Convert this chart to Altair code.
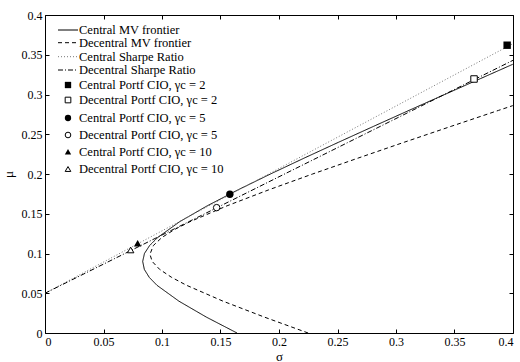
import altair as alt
import pandas as pd

# ---- data ----
central_mu = [0.0, 0.02, 0.04, 0.06, 0.07, 0.08, 0.09, 0.10, 0.11, 0.12, 0.14, 0.16, 0.18,
              0.20, 0.22, 0.24, 0.26, 0.28, 0.30, 0.32, 0.338]
central_sigma = [0.1641, 0.1379, 0.1145, 0.0957, 0.0891, 0.0849, 0.0835, 0.0850, 0.0894, 0.0962,
                 0.1151, 0.1387, 0.1649, 0.1927, 0.2215, 0.2510, 0.2809, 0.3111, 0.3416, 0.3722, 0.3998]

decentral_mu = [0.0, 0.02, 0.04, 0.06, 0.07, 0.08, 0.09, 0.099, 0.11, 0.12, 0.13, 0.14, 0.16,
                0.18, 0.20, 0.22, 0.24, 0.26, 0.28, 0.286]
decentral_sigma = [0.2249, 0.1875, 0.1522, 0.1210, 0.1082, 0.0980, 0.0916, 0.0897, 0.0926, 0.0998,
                   0.1105, 0.1239, 0.1556, 0.1911, 0.2287, 0.2676, 0.3071, 0.3472, 0.3876, 0.3998]

sharpe_sigma = [0.0, 0.4]
central_sharpe_mu = [0.05, 0.364]
decentral_sharpe_mu = [0.05, 0.343]

# portfolio points: gamma = 2, 5, 10
central_pt_sigma = [0.395, 0.158, 0.0792]
central_pt_mu = [0.362, 0.1745, 0.1128]
decentral_pt_sigma = [0.3667, 0.1467, 0.0732]
decentral_pt_mu = [0.3195, 0.1577, 0.1044]
pt_shapes = ["square", "circle", "triangle-up"]

legend_labels = [
    "Central MV frontier",
    "Decentral MV frontier",
    "Central Sharpe Ratio",
    "Decentral Sharpe Ratio",
    "Central Portf CIO, \u03b3c = 2",
    "Decentral Portf CIO, \u03b3c = 2",
    "Central Portf CIO, \u03b3c = 5",
    "Decentral Portf CIO, \u03b3c = 5",
    "Central Portf CIO, \u03b3c = 10",
    "Decentral Portf CIO, \u03b3c = 10",
]

ticks = [0, 0.05, 0.1, 0.15, 0.2, 0.25, 0.3, 0.35, 0.4]

FONT = "Liberation Serif"
W, H = 468, 318

xscale = alt.Scale(domain=[0, 0.4], nice=False)
yscale = alt.Scale(domain=[0, 0.4], nice=False)

grid_common = dict(values=ticks, tickSize=0, domain=False, grid=True,
                   gridDash=[4, 2000], gridColor="black", gridOpacity=1, gridWidth=1)

x_bottom = alt.Axis(orient="bottom", format="~g", labelFont=FONT, labelFontSize=12,
                    labelColor="black", labelPadding=3, title="\u03c3", titleFont=FONT,
                    titleFontSize=13, titleFontWeight="normal", titleColor="black",
                    titlePadding=3, **grid_common)
y_left = alt.Axis(orient="left", format="~g", labelFont=FONT, labelFontSize=12,
                  labelColor="black", labelPadding=3, title="\u03bc", titleFont=FONT,
                  titleFontSize=13, titleFontWeight="normal", titleColor="black",
                  titlePadding=6, **grid_common)
x_top = alt.Axis(orient="top", labels=False, title=None, **grid_common)
y_right = alt.Axis(orient="right", labels=False, title=None, **grid_common)


def curve(sig, mu, dash, color="black", first=False, second=False):
    df = pd.DataFrame({"s": sig, "m": mu, "i": list(range(len(sig)))})
    if first:
        xa, ya = x_bottom, y_left
    elif second:
        xa, ya = x_top, y_right
    else:
        xa, ya = None, None
    return alt.Chart(df).mark_line(color=color, strokeWidth=1, strokeDash=dash).encode(
        x=alt.X("s:Q", scale=xscale, axis=xa),
        y=alt.Y("m:Q", scale=yscale, axis=ya),
        order="i:Q",
    )


layers = [
    curve(central_sigma, central_mu, [1, 0], first=True),
    curve(decentral_sigma, decentral_mu, [4, 3], second=True),
    curve(sharpe_sigma, central_sharpe_mu, [1, 2], color="#777777"),
    curve(sharpe_sigma, decentral_sharpe_mu, [5, 2, 1, 2]),
]

for i, shp in enumerate(pt_shapes):
    dfc = pd.DataFrame({"s": [central_pt_sigma[i]], "m": [central_pt_mu[i]]})
    dfd = pd.DataFrame({"s": [decentral_pt_sigma[i]], "m": [decentral_pt_mu[i]]})
    layers.append(alt.Chart(dfc).mark_point(shape=shp, filled=True, color="black", size=55, opacity=1).encode(
        x=alt.X("s:Q", scale=xscale, axis=None), y=alt.Y("m:Q", scale=yscale, axis=None)))
    layers.append(alt.Chart(dfd).mark_point(shape=shp, filled=True, fill="white", stroke="black",
                                             strokeWidth=1, size=42, opacity=1).encode(
        x=alt.X("s:Q", scale=xscale, axis=None), y=alt.Y("m:Q", scale=yscale, axis=None)))

# ---- legend (layout positions in pixels inside the plot area) ----
leg_y = [15, 27.7, 41.7, 55, 70, 85, 103, 120, 136.7, 154]
line_dash = [[1, 0], [4, 3], [1, 2], [5, 2, 1, 2]]
line_col = ["black", "black", "#777777", "black"]
for k in range(4):
    layers.append(alt.Chart(pd.DataFrame({"a": [0]})).mark_rule(
        color=line_col[k], strokeWidth=1, strokeDash=line_dash[k]).encode(
        x=alt.value(13), x2=alt.value(33), y=alt.value(leg_y[k])))
for k in range(6):
    shp = pt_shapes[k // 2]
    filled_central = (k % 2 == 0)
    if filled_central:
        mk = alt.Chart(pd.DataFrame({"a": [0]})).mark_point(shape=shp, filled=True, color="black",
                                                           size=40, opacity=1)
    else:
        mk = alt.Chart(pd.DataFrame({"a": [0]})).mark_point(shape=shp, filled=True, fill="white",
                                                           stroke="black", strokeWidth=1, size=32,
                                                           opacity=1)
    layers.append(mk.encode(x=alt.value(23), y=alt.value(leg_y[4 + k])))
for k, lab in enumerate(legend_labels):
    layers.append(alt.Chart(pd.DataFrame({"t": [lab]})).mark_text(
        align="left", baseline="middle", font=FONT, fontSize=12.5, color="black").encode(
        text="t:N", x=alt.value(34), y=alt.value(leg_y[k])))

chart = alt.layer(*layers).properties(
    width=W, height=H,
    autosize=alt.AutoSizeParams(type="none"),
    padding={"left": 45, "top": 15, "right": 7, "bottom": 29},
    background="white",
).configure_view(stroke="black", strokeWidth=1)

chart.save("out.html", embed_options={"renderer": "svg", "actions": False})
